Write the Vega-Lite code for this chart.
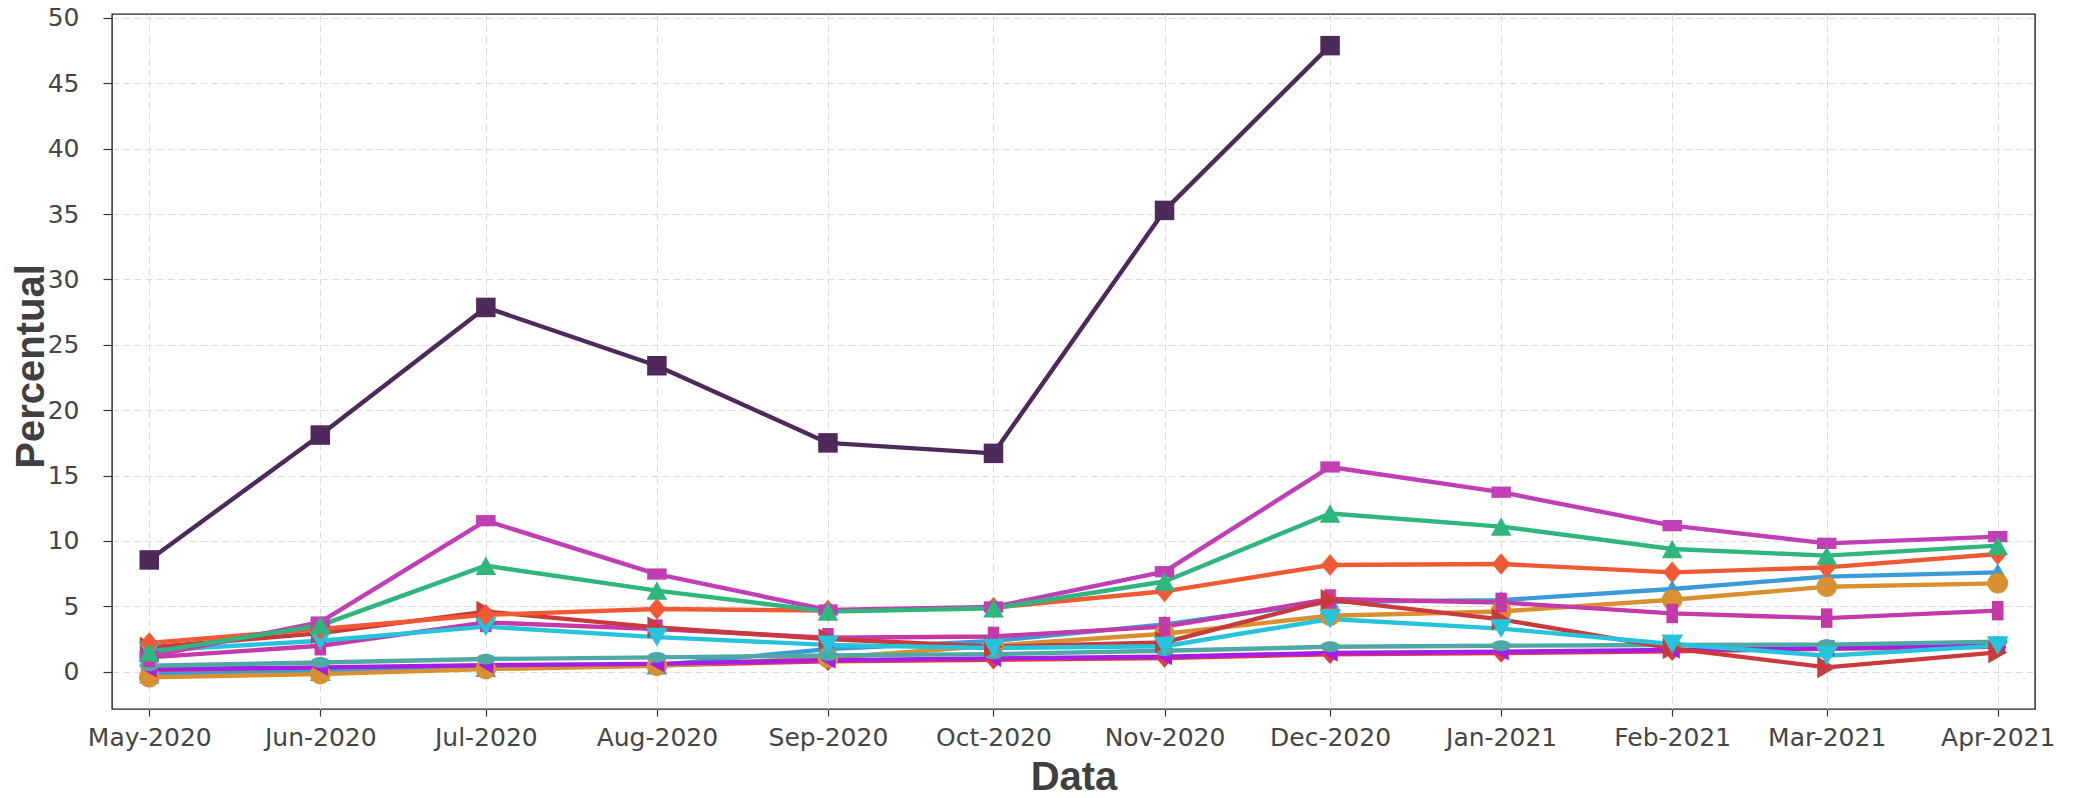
{
  "$schema": "https://vega.github.io/schema/vega-lite/v6.json",
  "width": 1923,
  "height": 695,
  "autosize": {"type": "none"},
  "padding": {"left": 112, "top": 14, "right": 48, "bottom": 89},
  "background": "white",
  "config": {
    "view": {"stroke": "#222222", "strokeWidth": 1.4},
    "axis": {
      "gridColor": "#DCDCDC", "gridDash": [7, 4], "gridWidth": 1,
      "domain": false, "tickColor": "#333333", "tickWidth": 1.2, "tickSize": 7,
      "labelFont": "DejaVu Sans", "labelFontSize": 25, "labelColor": "#454545",
      "titleFont": "Liberation Sans", "titleFontSize": 40, "titleFontWeight": "bold", "titleColor": "#404040"
    }
  },
  "data": {"values": [
    {"serie":"L","data":"2020-05-01","valor":0.1},{"serie":"L","data":"2020-06-01","valor":0.25},{"serie":"L","data":"2020-07-01","valor":0.4},{"serie":"L","data":"2020-08-01","valor":0.5},{"serie":"L","data":"2020-09-01","valor":0.8},{"serie":"L","data":"2020-10-01","valor":0.92},{"serie":"L","data":"2020-11-01","valor":1.05},{"serie":"L","data":"2020-12-01","valor":1.33},{"serie":"L","data":"2021-01-01","valor":1.43},{"serie":"L","data":"2021-02-01","valor":1.56},{"serie":"L","data":"2021-03-01","valor":1.75},{"serie":"L","data":"2021-04-01","valor":1.9},
    {"serie":"E","data":"2020-05-01","valor":-0.2},{"serie":"E","data":"2020-06-01","valor":0.0},{"serie":"E","data":"2020-07-01","valor":0.3},{"serie":"E","data":"2020-08-01","valor":0.5},{"serie":"E","data":"2020-09-01","valor":1.73},{"serie":"E","data":"2020-10-01","valor":2.35},{"serie":"E","data":"2020-11-01","valor":3.62},{"serie":"E","data":"2020-12-01","valor":5.35},{"serie":"E","data":"2021-01-01","valor":5.48},{"serie":"E","data":"2021-02-01","valor":6.33},{"serie":"E","data":"2021-03-01","valor":7.27},{"serie":"E","data":"2021-04-01","valor":7.6},
    {"serie":"F","data":"2020-05-01","valor":-0.43},{"serie":"F","data":"2020-06-01","valor":-0.18},{"serie":"F","data":"2020-07-01","valor":0.2},{"serie":"F","data":"2020-08-01","valor":0.46},{"serie":"F","data":"2020-09-01","valor":1.05},{"serie":"F","data":"2020-10-01","valor":2.0},{"serie":"F","data":"2020-11-01","valor":2.9},{"serie":"F","data":"2020-12-01","valor":4.28},{"serie":"F","data":"2021-01-01","valor":4.61},{"serie":"F","data":"2021-02-01","valor":5.5},{"serie":"F","data":"2021-03-01","valor":6.5},{"serie":"F","data":"2021-04-01","valor":6.76},
    {"serie":"K","data":"2020-05-01","valor":0.2},{"serie":"K","data":"2020-06-01","valor":0.33},{"serie":"K","data":"2020-07-01","valor":0.5},{"serie":"K","data":"2020-08-01","valor":0.6},{"serie":"K","data":"2020-09-01","valor":0.89},{"serie":"K","data":"2020-10-01","valor":1.02},{"serie":"K","data":"2020-11-01","valor":1.15},{"serie":"K","data":"2020-12-01","valor":1.43},{"serie":"K","data":"2021-01-01","valor":1.53},{"serie":"K","data":"2021-02-01","valor":1.66},{"serie":"K","data":"2021-03-01","valor":1.81},{"serie":"K","data":"2021-04-01","valor":2.0},
    {"serie":"J","data":"2020-05-01","valor":0.46},{"serie":"J","data":"2020-06-01","valor":0.71},{"serie":"J","data":"2020-07-01","valor":0.97},{"serie":"J","data":"2020-08-01","valor":1.1},{"serie":"J","data":"2020-09-01","valor":1.25},{"serie":"J","data":"2020-10-01","valor":1.35},{"serie":"J","data":"2020-11-01","valor":1.6},{"serie":"J","data":"2020-12-01","valor":1.91},{"serie":"J","data":"2021-01-01","valor":1.99},{"serie":"J","data":"2021-02-01","valor":2.04},{"serie":"J","data":"2021-03-01","valor":2.07},{"serie":"J","data":"2021-04-01","valor":2.3},
    {"serie":"G","data":"2020-05-01","valor":1.1},{"serie":"G","data":"2020-06-01","valor":1.99},{"serie":"G","data":"2020-07-01","valor":3.77},{"serie":"G","data":"2020-08-01","valor":3.26},{"serie":"G","data":"2020-09-01","valor":2.6},{"serie":"G","data":"2020-10-01","valor":2.7},{"serie":"G","data":"2020-11-01","valor":3.45},{"serie":"G","data":"2020-12-01","valor":5.56},{"serie":"G","data":"2021-01-01","valor":5.3},{"serie":"G","data":"2021-02-01","valor":4.46},{"serie":"G","data":"2021-03-01","valor":4.1},{"serie":"G","data":"2021-04-01","valor":4.67},
    {"serie":"H","data":"2020-05-01","valor":1.85},{"serie":"H","data":"2020-06-01","valor":2.95},{"serie":"H","data":"2020-07-01","valor":4.6},{"serie":"H","data":"2020-08-01","valor":3.39},{"serie":"H","data":"2020-09-01","valor":2.5},{"serie":"H","data":"2020-10-01","valor":1.91},{"serie":"H","data":"2020-11-01","valor":2.24},{"serie":"H","data":"2020-12-01","valor":5.5},{"serie":"H","data":"2021-01-01","valor":4.0},{"serie":"H","data":"2021-02-01","valor":1.79},{"serie":"H","data":"2021-03-01","valor":0.33},{"serie":"H","data":"2021-04-01","valor":1.48},
    {"serie":"I","data":"2020-05-01","valor":1.6},{"serie":"I","data":"2020-06-01","valor":2.37},{"serie":"I","data":"2020-07-01","valor":3.45},{"serie":"I","data":"2020-08-01","valor":2.65},{"serie":"I","data":"2020-09-01","valor":2.05},{"serie":"I","data":"2020-10-01","valor":1.81},{"serie":"I","data":"2020-11-01","valor":1.95},{"serie":"I","data":"2020-12-01","valor":4.03},{"serie":"I","data":"2021-01-01","valor":3.3},{"serie":"I","data":"2021-02-01","valor":2.12},{"serie":"I","data":"2021-03-01","valor":1.22},{"serie":"I","data":"2021-04-01","valor":2.0},
    {"serie":"D","data":"2020-05-01","valor":2.2},{"serie":"D","data":"2020-06-01","valor":3.27},{"serie":"D","data":"2020-07-01","valor":4.35},{"serie":"D","data":"2020-08-01","valor":4.8},{"serie":"D","data":"2020-09-01","valor":4.67},{"serie":"D","data":"2020-10-01","valor":4.9},{"serie":"D","data":"2020-11-01","valor":6.15},{"serie":"D","data":"2020-12-01","valor":8.16},{"serie":"D","data":"2021-01-01","valor":8.24},{"serie":"D","data":"2021-02-01","valor":7.6},{"serie":"D","data":"2021-03-01","valor":7.98},{"serie":"D","data":"2021-04-01","valor":9.0},
    {"serie":"B","data":"2020-05-01","valor":1.15},{"serie":"B","data":"2020-06-01","valor":3.8},{"serie":"B","data":"2020-07-01","valor":11.55},{"serie":"B","data":"2020-08-01","valor":7.47},{"serie":"B","data":"2020-09-01","valor":4.72},{"serie":"B","data":"2020-10-01","valor":4.95},{"serie":"B","data":"2020-11-01","valor":7.65},{"serie":"B","data":"2020-12-01","valor":15.66},{"serie":"B","data":"2021-01-01","valor":13.73},{"serie":"B","data":"2021-02-01","valor":11.17},{"serie":"B","data":"2021-03-01","valor":9.82},{"serie":"B","data":"2021-04-01","valor":10.33},
    {"serie":"C","data":"2020-05-01","valor":1.48},{"serie":"C","data":"2020-06-01","valor":3.55},{"serie":"C","data":"2020-07-01","valor":8.11},{"serie":"C","data":"2020-08-01","valor":6.2},{"serie":"C","data":"2020-09-01","valor":4.6},{"serie":"C","data":"2020-10-01","valor":4.85},{"serie":"C","data":"2020-11-01","valor":6.9},{"serie":"C","data":"2020-12-01","valor":12.1},{"serie":"C","data":"2021-01-01","valor":11.1},{"serie":"C","data":"2021-02-01","valor":9.39},{"serie":"C","data":"2021-03-01","valor":8.88},{"serie":"C","data":"2021-04-01","valor":9.64},
    {"serie":"A","data":"2020-05-01","valor":8.55},{"serie":"A","data":"2020-06-01","valor":18.1},{"serie":"A","data":"2020-07-01","valor":27.86},{"serie":"A","data":"2020-08-01","valor":23.4},{"serie":"A","data":"2020-09-01","valor":17.5},{"serie":"A","data":"2020-10-01","valor":16.7},{"serie":"A","data":"2020-11-01","valor":35.28},{"serie":"A","data":"2020-12-01","valor":47.88}
  ]},
  "encoding": {
    "x": {
      "field": "data", "type": "temporal",
      "scale": {"type": "utc", "domain": [
        {"year": 2020, "month": 4, "date": 24, "hours": 6, "utc": true},
        {"year": 2021, "month": 4, "date": 7, "hours": 18, "utc": true}
      ]},
      "axis": {
        "title": "Data", "format": "%b-%Y", "labelAngle": 0, "labelFlush": false, "labelOverlap": false,
        "labelPadding": 9, "titleY": 80, "titleBaseline": "alphabetic",
        "values": [
          {"year": 2020, "month": 5, "date": 1, "utc": true},
          {"year": 2020, "month": 6, "date": 1, "utc": true},
          {"year": 2020, "month": 7, "date": 1, "utc": true},
          {"year": 2020, "month": 8, "date": 1, "utc": true},
          {"year": 2020, "month": 9, "date": 1, "utc": true},
          {"year": 2020, "month": 10, "date": 1, "utc": true},
          {"year": 2020, "month": 11, "date": 1, "utc": true},
          {"year": 2020, "month": 12, "date": 1, "utc": true},
          {"year": 2021, "month": 1, "date": 1, "utc": true},
          {"year": 2021, "month": 2, "date": 1, "utc": true},
          {"year": 2021, "month": 3, "date": 1, "utc": true},
          {"year": 2021, "month": 4, "date": 1, "utc": true}
        ]
      }
    },
    "y": {
      "field": "valor", "type": "quantitative",
      "scale": {"domain": [-2.85, 50.3], "nice": false, "zero": false},
      "axis": {
        "title": "Percentual", "values": [0, 5, 10, 15, 20, 25, 30, 35, 40, 45, 50],
        "tickSize": 9, "labelPadding": 24, "titleX": -69, "titleY": 352, "titleBaseline": "alphabetic", "titleAngle": -90
      }
    },
    "color": {
      "field": "serie", "type": "nominal", "legend": null,
      "scale": {
        "domain": ["A", "B", "C", "D", "E", "F", "G", "H", "I", "J", "K", "L"],
        "range": ["#4E2A5A", "#C13FB5", "#2EB67D", "#EF5A35", "#3B9BD6", "#D89030", "#C43AA8", "#C93A3C", "#26C4DA", "#4FA8A5", "#A61EE3", "#E6393F"]
      }
    }
  },
  "layer": [
    {
      "mark": {"type": "line", "strokeWidth": 4.4, "strokeJoin": "round"}
    },
    {
      "mark": {"type": "point", "filled": true, "opacity": 1, "size": 470, "strokeWidth": 0},
      "encoding": {
        "shape": {
          "field": "serie", "type": "nominal", "legend": null,
          "scale": {
            "domain": ["A", "B", "C", "D", "E", "F", "G", "H", "I", "J", "K", "L"],
            "range": [
              "M-0.9,-0.9L0.9,-0.9L0.9,0.9L-0.9,0.9Z",
              "M-0.9,-0.52L0.9,-0.52L0.9,0.52L-0.9,0.52Z",
              "M0,-0.85L0.95,0.85L-0.95,0.85Z",
              "M0,-1L0.85,0L0,1L-0.85,0Z",
              "M0,-0.85L0.95,0.85L-0.95,0.85Z",
              "M-0.95,0A0.95 0.95 0 1 0 0.95,0A0.95 0.95 0 1 0 -0.95,0Z",
              "M-0.53,-0.9L0.53,-0.9L0.53,0.9L-0.53,0.9Z",
              "M0.87,0L-0.87,1L-0.87,-1Z",
              "M-1,-0.87L1,-0.87L0,0.87Z",
              "M-0.9,0A0.9 0.5 0 1 0 0.9,0A0.9 0.5 0 1 0 -0.9,0Z",
              "M-0.7,0L0.7,-0.8L0.7,0.8Z",
              "M0,-0.9L0.8,0L0,0.9L-0.8,0Z"
            ]
          }
        }
      }
    }
  ]
}
